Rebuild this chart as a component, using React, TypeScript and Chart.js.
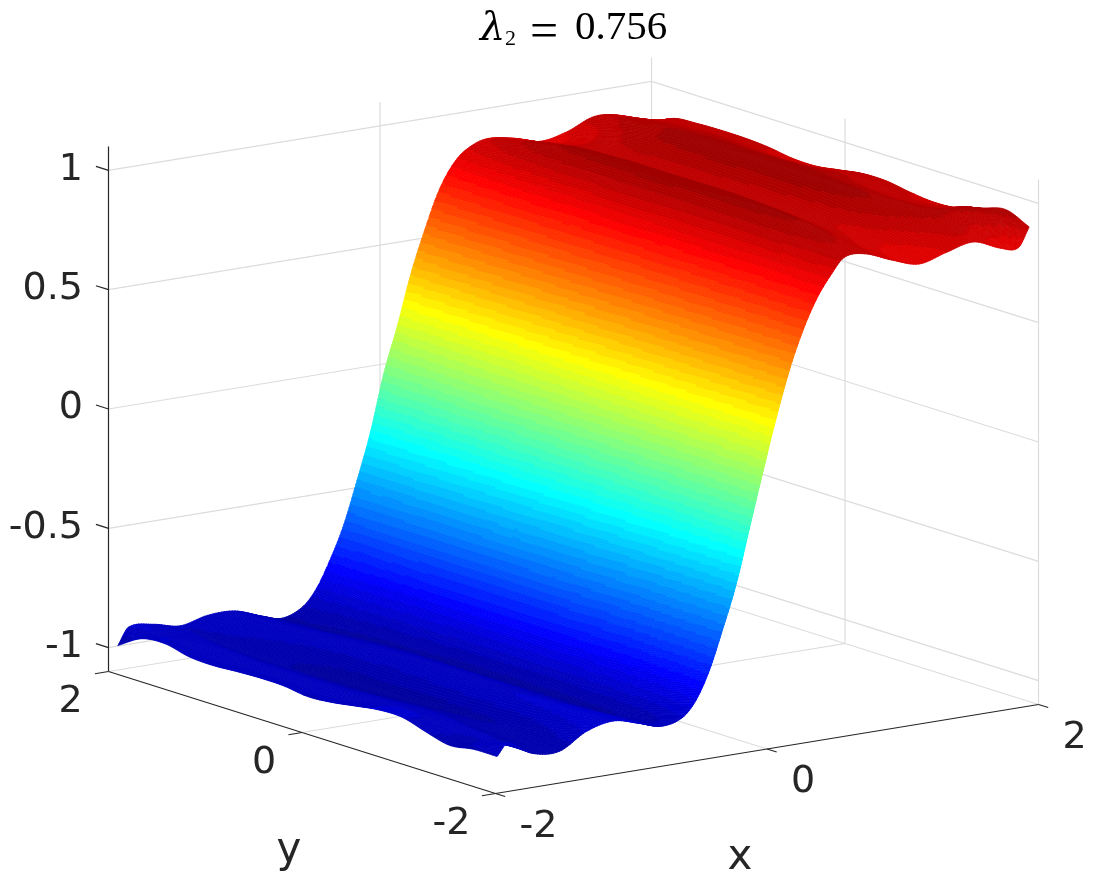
import React, { useEffect, useRef } from "react";
import { Chart, registerables } from "chart.js";

Chart.register(...registerables);

// Surface grid: x stations, y stations, and one z column per x station.
const xStations = [-1.96,-1.88,-1.7,-1.5,-1.3,-1.1,-0.9,-0.75,-0.6,-0.5,-0.4,-0.3,-0.2,-0.1,0,0.1,0.2,0.3,0.4,0.5,0.6,0.75,0.95,1.15,1.35,1.55,1.75,1.88,1.96];
const yStations = [-1.96,-1.715,-1.47,-1.225,-0.98,-0.735,-0.49,-0.245,0,0.245,0.49,0.735,0.98,1.225,1.47,1.715,1.96];

const z00 = [-.954,-.955,-.97,-.945,-.915,-.915,-.93,-.946,-.953,-.94,-.938,-.942,-.948,-.943,-.92,-.93,-.99];
const z01 = [-.906,-.94,-.96,-.94,-.915,-.915,-.93,-.945,-.95,-.94,-.94,-.94,-.945,-.94,-.92,-.92,-.92];
const z02 = [-.965,-.955,-.95,-.945,-.935,-.93,-.935,-.94,-.945,-.945,-.945,-.945,-.945,-.94,-.935,-.93,-.925];
const z03 = [-.975,-.98,-.98,-.975,-.97,-.97,-.975,-.98,-.985,-.985,-.985,-.985,-.98,-.975,-.965,-.955,-.95];
const z04 = [-.91,-.94,-.96,-.975,-.985,-.99,-.995,-1,-1,-1,-.995,-.985,-.975,-.96,-.945,-.93,-.925];
const z05 = [-.885,-.895,-.905,-.915,-.92,-.925,-.93,-.935,-.94,-.945,-.945,-.945,-.94,-.935,-.93,-.925,-.925];
const z06 = [-.915,-.92,-.925,-.93,-.93,-.93,-.93,-.93,-.93,-.93,-.935,-.94,-.945,-.95,-.955,-.96,-.965];
const z07 = [-.94,-.955,-.965,-.97,-.97,-.97,-.97,-.97,-.97,-.97,-.97,-.97,-.975,-.98,-.985,-.985,-.988];
const z08 = [-.92,-.95,-.975,-.985,-.99,-.99,-.99,-.99,-.99,-.99,-.99,-.985,-.985,-.98,-.975,-.965,-.955];
const z09 = [-.86,-.89,-.915,-.93,-.935,-.94,-.94,-.94,-.94,-.94,-.94,-.935,-.93,-.925,-.915,-.90,-.89];
const z10 = [-.745,-.765,-.78,-.80,-.81,-.815,-.82,-.82,-.82,-.82,-.82,-.82,-.82,-.81,-.80,-.79,-.78];
const z11 = [-.58,-.59,-.60,-.615,-.625,-.63,-.635,-.64,-.64,-.64,-.64,-.64,-.64,-.64,-.64,-.64,-.645];
const z12 = [-.40,-.41,-.42,-.43,-.435,-.44,-.445,-.45,-.45,-.455,-.455,-.46,-.46,-.46,-.465,-.465,-.465];
const z13 = [-.17,-.18,-.19,-.20,-.205,-.21,-.215,-.22,-.225,-.23,-.235,-.24,-.25,-.255,-.26,-.265,-.27];
const z14 = [.06,.05,.045,.04,.035,.03,.025,.02,.015,.01,.005,0,-.005,-.01,-.02,-.025,-.03];
const z15 = [.28,.27,.265,.255,.25,.24,.235,.225,.22,.21,.205,.195,.19,.18,.175,.165,.16];
const z16 = [.475,.47,.46,.455,.45,.44,.435,.43,.425,.42,.41,.405,.40,.395,.385,.38,.37];
const z17 = [.63,.625,.615,.61,.605,.60,.595,.59,.585,.58,.575,.57,.565,.56,.555,.55,.54];
const z18 = [.75,.745,.74,.735,.73,.725,.72,.72,.715,.715,.71,.71,.705,.705,.70,.695,.69];
const z19 = [.835,.835,.84,.845,.845,.845,.845,.845,.84,.84,.84,.835,.83,.82,.81,.80,.79];
const z20 = [.90,.905,.915,.92,.925,.925,.925,.925,.925,.925,.92,.92,.915,.905,.89,.87,.847];
const z21 = [.90,.915,.935,.955,.965,.97,.975,.975,.975,.975,.975,.97,.965,.95,.93,.90,.88];
const z22 = [.855,.87,.89,.90,.905,.91,.91,.905,.90,.895,.895,.90,.905,.905,.895,.88,.865];
const z23 = [.82,.84,.87,.885,.895,.90,.905,.91,.915,.92,.92,.92,.92,.91,.885,.855,.833];
const z24 = [.85,.87,.90,.93,.95,.965,.975,.975,.975,.975,.97,.965,.955,.935,.91,.875,.855];
const z25 = [.875,.90,.925,.94,.945,.95,.955,.96,.96,.96,.96,.96,.955,.95,.94,.92,.90];
const z26 = [.83,.88,.92,.91,.90,.905,.915,.925,.92,.915,.915,.92,.925,.92,.915,.90,.885];
const z27 = [.82,.90,.925,.895,.885,.89,.905,.91,.895,.88,.88,.89,.90,.90,.895,.885,.84];
const z28 = [.90,.942,.915,.885,.878,.888,.904,.904,.888,.873,.875,.89,.897,.898,.895,.885,.83];
const zColumns = [z00,z01,z02,z03,z04,z05,z06,z07,z08,z09,z10,z11,z12,z13,z14,z15,z16,z17,z18,z19,z20,z21,z22,z23,z24,z25,z26,z27,z28];

const zTicks = [-1, -0.5, 0, 0.5, 1];
const xTicks = [-2, 0, 2];
const yTicks = [-2, 0, 2];
const zTickLabels = ["-1", "-0.5", "0", "0.5", "1"];
const xTickLabels = ["-2", "0", "2"];
const yTickLabels = ["-2", "0", "2"];

const axisMin = -2, axisMax = 2, zMin = -1.1, zMax = 1.1;
const colorLimit = 1.05;

// Orthographic view of the axes box, onto the canvas pixel range.
function project(x: number, y: number, z: number) {
  const a = x + 2, b = y + 2;
  return {
    x: 495.5 + 135.75 * a - 96.75 * b,
    y: 793.5 - 22.25 * a - 30.5 * b - 238.64 * (z + 1.1),
  };
}

function jet(index: number) {
  const v = (index + 1) / 64;
  const ch = (t: number) => Math.max(0, Math.min(1, 1.5 - Math.abs(4 * t)));
  const r = ch(v - 0.75);
  const g = ch(v - 0.5);
  const b = ch(v - 0.25);
  return `rgb(${Math.round(r * 255)},${Math.round(g * 255)},${Math.round(b * 255)})`;
}

function colorIndex(z: number) {
  const i = Math.floor(((z + colorLimit) / (2 * colorLimit)) * 64);
  return Math.max(0, Math.min(63, i));
}

// Hermite curve through a station list, used only to shade between table values.
function hermite(ts: number[], v: (i: number) => number, i: number, f: number) {
  const n = ts.length;
  if (i >= n - 1) return v(n - 1);
  const h = ts[i + 1] - ts[i];
  const slope = (k: number) => {
    if (k <= 0) return (v(1) - v(0)) / (ts[1] - ts[0]);
    if (k >= n - 1) return (v(n - 1) - v(n - 2)) / (ts[n - 1] - ts[n - 2]);
    return (v(k + 1) - v(k - 1)) / (ts[k + 1] - ts[k - 1]);
  };
  const p0 = v(i), p1 = v(i + 1), m0 = slope(i) * h, m1 = slope(i + 1) * h;
  const f2 = f * f, f3 = f2 * f;
  return (2 * f3 - 3 * f2 + 1) * p0 + (f3 - 2 * f2 + f) * m0 + (-2 * f3 + 3 * f2) * p1 + (f3 - f2) * m1;
}

function sampleZ(ix: number, fx: number, iy: number, fy: number) {
  return hermite(xStations, (c) => hermite(yStations, (r) => zColumns[c][r], iy, fy), ix, fx);
}

function surfaceDatasets() {
  const out: any[] = [];
  const ySub = 6;
  const nodes: { y: number; iy: number; fy: number }[] = [];
  for (let iy = 0; iy < yStations.length - 1; iy++) {
    for (let k = 0; k < ySub; k++) {
      nodes.push({ y: yStations[iy] + ((yStations[iy + 1] - yStations[iy]) * k) / ySub, iy, fy: k / ySub });
    }
  }
  nodes.push({ y: yStations[yStations.length - 1], iy: yStations.length - 1, fy: 0 });
  for (let ix = 0; ix < xStations.length - 1; ix++) {
    let maxStep = 0;
    for (let iy = 0; iy < yStations.length; iy++) {
      maxStep = Math.max(maxStep, Math.abs(zColumns[ix + 1][iy] - zColumns[ix][iy]));
    }
    const xSub = Math.max(10, Math.ceil(maxStep / 0.008));
    const xW = xStations[ix + 1] - xStations[ix];
    for (let sx = 0; sx < xSub; sx++) {
      const f0 = sx / xSub, f1 = (sx + 1) / xSub;
      const xA = xStations[ix] + xW * f0, xB = xStations[ix] + xW * f1;
      const z0 = nodes.map((n) => sampleZ(ix, f0, n.iy, n.fy));
      const z1 = nodes.map((n) => sampleZ(ix, f1, n.iy, n.fy));
      const flush = (from: number, to: number, idx: number) => {
        const pts: { x: number; y: number }[] = [];
        for (let k = from; k <= to; k++) pts.push(project(xA, nodes[k].y, z0[k]));
        for (let k = to; k >= from; k--) pts.push(project(xB, nodes[k].y, z1[k]));
        pts.push(pts[0]);
        const c = jet(idx);
        out.push({ data: pts, showLine: true, fill: "shape", backgroundColor: c, borderColor: c, borderWidth: 0.8, pointRadius: 0, tension: 0 });
      };
      const idxOf = (k: number) => colorIndex((z0[k] + z0[k + 1] + z1[k] + z1[k + 1]) / 4);
      let start = 0;
      let cur = idxOf(0);
      for (let k = 1; k < nodes.length - 1; k++) {
        const i = idxOf(k);
        if (i !== cur) {
          flush(start, k, cur);
          start = k;
          cur = i;
        }
      }
      flush(start, nodes.length - 1, cur);
    }
  }
  return out;
}

function lineDataset(pts: { x: number; y: number }[], color: string, width: number) {
  return { data: pts, showLine: true, fill: false, borderColor: color, borderWidth: width, pointRadius: 0, tension: 0 };
}

function axisDatasets() {
  const dark = "#262626";
  const out: any[] = [];
  out.push(lineDataset([project(axisMin, axisMax, zMin), project(axisMin, axisMax, zMax)], dark, 1.2));
  out.push(lineDataset([project(axisMin, axisMax, zMin), project(axisMin, axisMin, zMin)], dark, 1.2));
  out.push(lineDataset([project(axisMin, axisMin, zMin), project(axisMax, axisMin, zMin)], dark, 1.2));
  for (const z of zTicks) out.push(lineDataset([project(axisMin, axisMax, z), project(axisMin, axisMax + 0.13, z)], dark, 1.2));
  for (const y of yTicks) out.push(lineDataset([project(axisMin, y, zMin), project(axisMin - 0.1, y, zMin)], dark, 1.2));
  for (const x of xTicks) out.push(lineDataset([project(x, axisMin, zMin), project(x, axisMin - 0.1, zMin)], dark, 1.2));
  return out;
}

function gridDatasets() {
  const grid = "#dcdcdc";
  const out: any[] = [];
  for (const z of zTicks) {
    out.push(lineDataset([project(axisMin, axisMax, z), project(axisMax, axisMax, z), project(axisMax, axisMin, z)], grid, 1.2));
  }
  out.push(lineDataset([project(axisMin, axisMax, zMin), project(axisMax, axisMax, zMin), project(axisMax, axisMin, zMin)], grid, 1.2));
  out.push(lineDataset([project(0, axisMax, zMax), project(0, axisMax, zMin), project(0, axisMin, zMin)], grid, 1.2));
  out.push(lineDataset([project(axisMax, 0, zMax), project(axisMax, 0, zMin), project(axisMin, 0, zMin)], grid, 1.2));
  out.push(lineDataset([project(axisMax, axisMax, zMax), project(axisMax, axisMax, zMin)], grid, 1.2));
  out.push(lineDataset([project(axisMax, axisMin, zMax), project(axisMax, axisMin, zMin)], grid, 1.2));
  return out;
}

const yLabelNudge = [-5, 1, 1];
const xLabelNudge = [7, 0, 0];

const textPlugin = {
  id: "axisText",
  afterDraw(chart: any) {
    const { ctx } = chart;
    const sx = (v: number) => chart.scales.x.getPixelForValue(v);
    const sy = (v: number) => chart.scales.y.getPixelForValue(v);
    const ink = "#262626";
    const put = (t: string, x: number, y: number, font: string, align: CanvasTextAlign, color = ink) => {
      ctx.font = font;
      ctx.textAlign = align;
      ctx.textBaseline = "alphabetic";
      ctx.fillStyle = color;
      ctx.fillText(t, sx(x), sy(y));
    };
    ctx.save();
    const tickFont = '38px "DejaVu Sans"';
    zTicks.forEach((z, i) => {
      const p = project(axisMin, axisMax, z);
      put(zTickLabels[i], 83, p.y + 9.5, tickFont, "right");
    });
    yTicks.forEach((y, i) => {
      const p = project(axisMin, y, zMin);
      put(yTickLabels[i], p.x - 39 + yLabelNudge[i], p.y + 40, tickFont, "center");
    });
    xTicks.forEach((x, i) => {
      const p = project(x, axisMin, zMin);
      put(xTickLabels[i], p.x + 36 + xLabelNudge[i], p.y + 43, tickFont, "center");
    });
    put("x", 740, 869, '42px "DejaVu Sans"', "center");
    put("y", 289, 862, '42px "DejaVu Sans"', "center");
    const black = "#000000";
    put("λ", 480, 40, 'italic 40px "DejaVu Serif"', "left", black);
    put("2", 505, 45, '22px "Liberation Serif"', "left", black);
    put("=", 530, 47, '50px "Liberation Serif"', "left", black);
    put("0.756", 575, 39, '41px "Liberation Serif"', "left", black);
    ctx.restore();
  },
};

export default function App() {
  const ref = useRef<HTMLCanvasElement>(null);
  useEffect(() => {
    const datasets = [...axisDatasets(), ...surfaceDatasets(), ...gridDatasets()];
    const chart = new Chart(ref.current as HTMLCanvasElement, {
      type: "scatter",
      data: { datasets },
      plugins: [textPlugin],
      options: {
        animation: false,
        responsive: false,
        events: [],
        layout: { padding: 0 },
        plugins: { legend: { display: false }, tooltip: { enabled: false }, title: { display: false } },
        scales: {
          x: { type: "linear", min: 0, max: 1093, display: false },
          y: { type: "linear", min: 0, max: 879, reverse: true, display: false },
        },
      },
    } as any);
    return () => chart.destroy();
  }, []);
  return (
    <canvas
      ref={ref}
      width={1093}
      height={879}
      style={{ position: "absolute", left: 0, top: 0, display: "block", background: "#fff" }}
    />
  );
}
